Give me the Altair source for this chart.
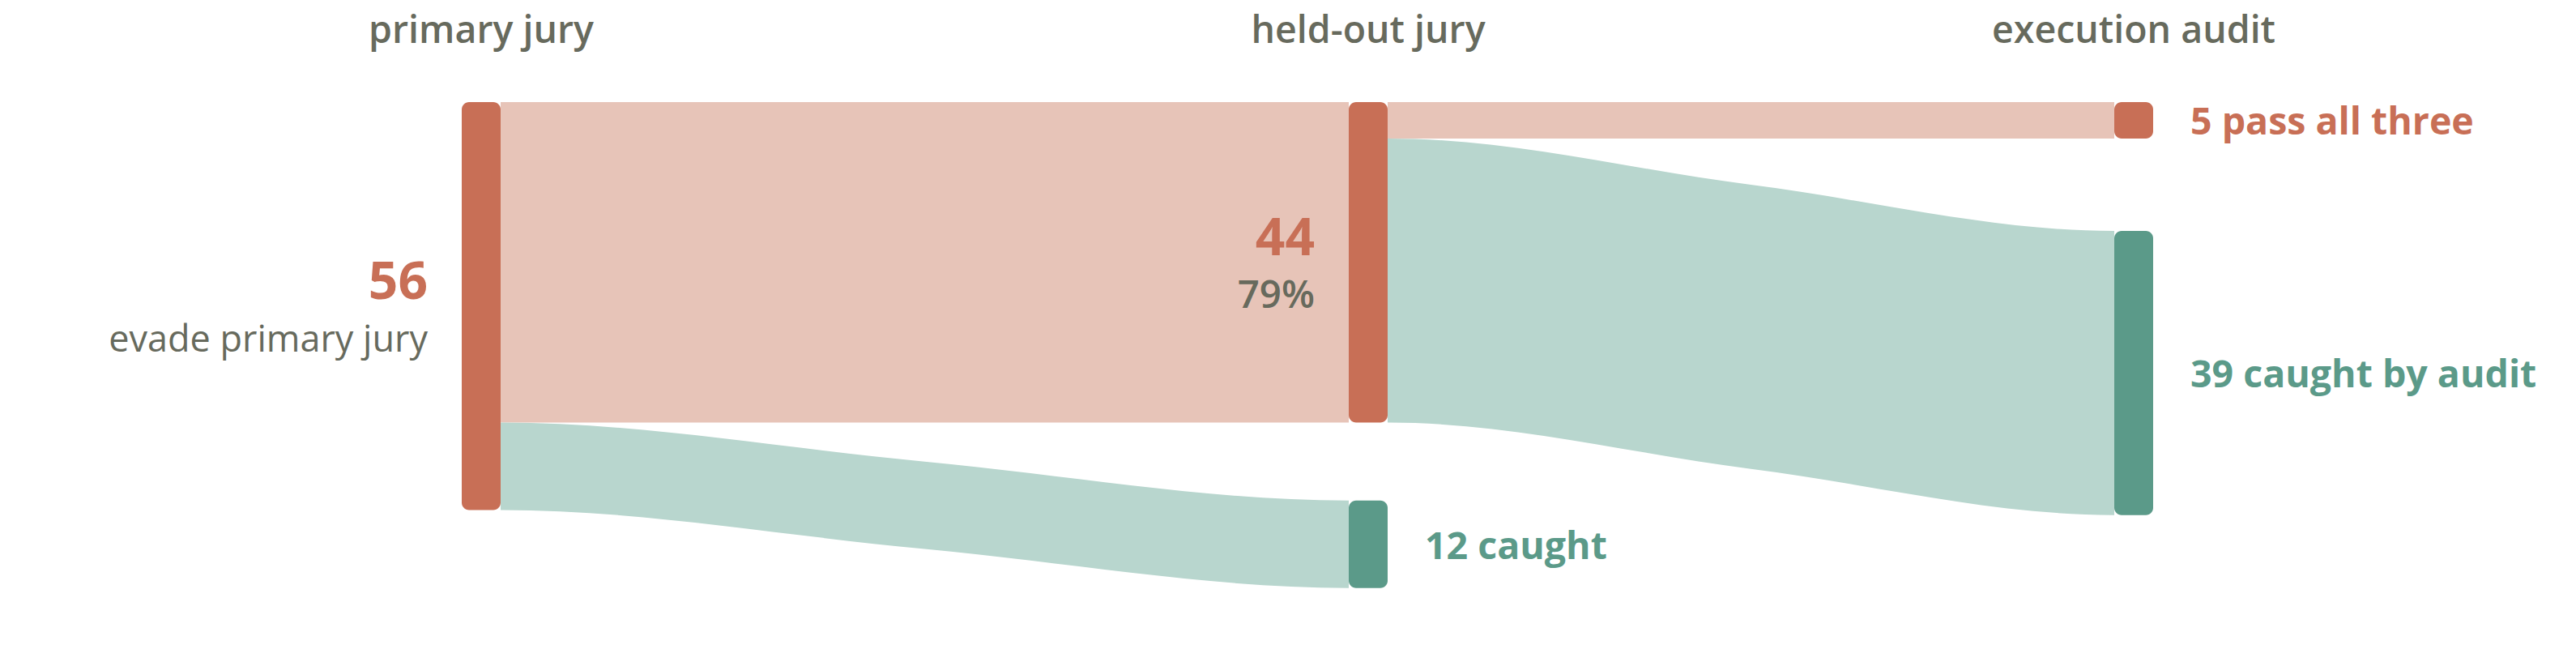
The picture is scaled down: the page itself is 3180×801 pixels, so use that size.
import altair as alt
import pandas as pd

# ---------------- data ----------------
stages = ["primary jury", "held-out jury", "execution audit"]
node_ids = ["evade_primary", "evade_heldout", "caught_heldout", "pass_all", "caught_audit"]
node_stage = [0, 1, 1, 2, 2]
node_values = [56, 44, 12, 5, 39]
node_outcome = ["evade", "evade", "caught", "evade", "caught"]

link_source = [0, 0, 1, 1]
link_target = [1, 2, 3, 4]
link_values = [44, 12, 5, 39]

# left-hand annotations (big number + sub label)
left_nodes = [0, 1]
left_sub = ["evade primary jury", f"{round(100 * 44 / 56)}%"]
left_sub_weight = [400, 600]
# right-hand annotations
right_nodes = [2, 3, 4]
right_text = ["12 caught", "5 pass all three", "39 caught by audit"]

# ---------------- layout / style ----------------
PAD_TOP = 20
W, H = 3160, 760
COL_LEFT = [562, 1657, 2602]      # column left edges (px)
NODE_W = 48
PPU = 8.99                        # px per count
TOP = 98                          # px of the first node top (inside plot)
NODE_GAP = {0: 0.0, 1: 10.7, 2: 12.7}   # gaps between nodes in a column (count units)
FLAT = 1.0                        # px of flat tangent at each link end

RED, RED_L = "#C86F56", "#E7C4B8"
GRN, GRN_L = "#5B9A89", "#B8D6CE"
GRAY = "#676A5D"
FONT = "Open Sans"
node_fill = {"evade": RED, "caught": GRN}
link_fill = {"evade": RED_L, "caught": GRN_L}

# ---------------- sankey layout ----------------
y0 = []
cursor = {}
for s, v in zip(node_stage, node_values):
    c = cursor.get(s, None)
    c = 0.0 if c is None else c + NODE_GAP[s]
    y0.append(c)
    cursor[s] = c + v

nodes = pd.DataFrame({
    "id": node_ids,
    "stage": node_stage,
    "value": node_values,
    "outcome": node_outcome,
    "y0": y0,
})
nodes["y1"] = nodes["y0"] + nodes["value"]
nodes["yc"] = (nodes["y0"] + nodes["y1"]) / 2
nodes["x0"] = [COL_LEFT[s] for s in node_stage]
nodes["x1"] = nodes["x0"] + NODE_W
nodes["fill"] = [node_fill[o] for o in node_outcome]

out_off = {i: 0.0 for i in range(len(node_ids))}
in_off = {i: 0.0 for i in range(len(node_ids))}
rows = []
for k, (s, t, v) in enumerate(zip(link_source, link_target, link_values)):
    sy0 = y0[s] + out_off[s]
    ty0 = y0[t] + in_off[t]
    out_off[s] += v
    in_off[t] += v
    xs = COL_LEFT[node_stage[s]] + NODE_W
    xt = COL_LEFT[node_stage[t]]
    xm = (xs + xt) / 2
    fill = link_fill[node_outcome[t]]
    # path geometry: flat start, midpoint, flat end (monotone curve through them)
    pts = [(xs, sy0), (xs + FLAT, sy0), (xm, (sy0 + ty0) / 2), (xt - FLAT, ty0), (xt, ty0)]
    for px, py in pts:
        rows.append({"link": f"L{k}", "px": px, "top": py, "bot": py + v, "fill": fill})
links = pd.DataFrame(rows)

xs_ = alt.Scale(domain=[0, W], nice=False, zero=False)
ys_ = alt.Scale(domain=[-TOP / PPU, (H - TOP) / PPU], nice=False, zero=False, reverse=True)

link_layer = alt.Chart(links).mark_area(interpolate="monotone").encode(
    x=alt.X("px:Q", scale=xs_, axis=None),
    y=alt.Y("top:Q", scale=ys_, axis=None, stack=None),
    y2="bot:Q",
    detail="link:N",
    color=alt.Color("fill:N", scale=None),
)

node_layer = alt.Chart(nodes).mark_rect(cornerRadius=9).encode(
    x=alt.X("x0:Q", scale=xs_, axis=None),
    x2="x1:Q",
    y=alt.Y("y0:Q", scale=ys_, axis=None),
    y2="y1:Q",
    color=alt.Color("fill:N", scale=None),
)

# column headers
heads = pd.DataFrame({
    "text": stages,
    "x": [COL_LEFT[i] + NODE_W / 2 for i in range(3)],
    "y": [0.0] * 3,
})
head_layer = alt.Chart(heads).mark_text(
    font=FONT, fontSize=46.5, fontWeight=600, color=GRAY, align="center",
    baseline="alphabetic", dy=-73,
).encode(
    x=alt.X("x:Q", scale=xs_, axis=None),
    y=alt.Y("y:Q", scale=ys_, axis=None),
    text="text:N",
)

left_df = pd.DataFrame({
    "num": [str(node_values[i]) for i in left_nodes],
    "sub": left_sub,
    "x": [nodes.loc[i, "x0"] for i in left_nodes],
    "y": [nodes.loc[i, "yc"] for i in left_nodes],
})
num_layer = alt.Chart(left_df).mark_text(
    font=FONT, fontSize=64, fontWeight=700, color=RED, align="right",
    baseline="alphabetic", dx=-42, dy=-9,
).encode(
    x=alt.X("x:Q", scale=xs_, axis=None),
    y=alt.Y("y:Q", scale=ys_, axis=None),
    text="num:N",
)
sub_layers = []
for i, (txt, wt) in enumerate(zip(left_sub, left_sub_weight)):
    sub_layers.append(
        alt.Chart(left_df.iloc[[i]]).mark_text(
            font=FONT, fontSize=45 if wt == 400 else 47.5, fontWeight=wt, color=GRAY,
            align="right", baseline="alphabetic", dx=-42, dy=56,
        ).encode(
            x=alt.X("x:Q", scale=xs_, axis=None),
            y=alt.Y("y:Q", scale=ys_, axis=None),
            text="sub:N",
        )
    )

right_df = pd.DataFrame({
    "text": right_text,
    "x": [nodes.loc[i, "x1"] for i in right_nodes],
    "y": [nodes.loc[i, "yc"] for i in right_nodes],
    "fill": [node_fill[node_outcome[i]] for i in right_nodes],
})
right_layer = alt.Chart(right_df).mark_text(
    font=FONT, fontSize=46.5, fontWeight=700, align="left",
    baseline="alphabetic", dx=46, dy=18,
).encode(
    x=alt.X("x:Q", scale=xs_, axis=None),
    y=alt.Y("y:Q", scale=ys_, axis=None),
    text="text:N",
    color=alt.Color("fill:N", scale=None),
)

chart = alt.layer(
    link_layer, node_layer, head_layer, num_layer, *sub_layers, right_layer
).properties(
    width=W, height=H,
    padding={"top": PAD_TOP, "left": 0, "right": 0, "bottom": 0},
    autosize=alt.AutoSizeParams(type="none"),
    background="white",
).configure_view(stroke=None)

chart.save("out.html", embed_options={"renderer": "svg", "actions": False})
